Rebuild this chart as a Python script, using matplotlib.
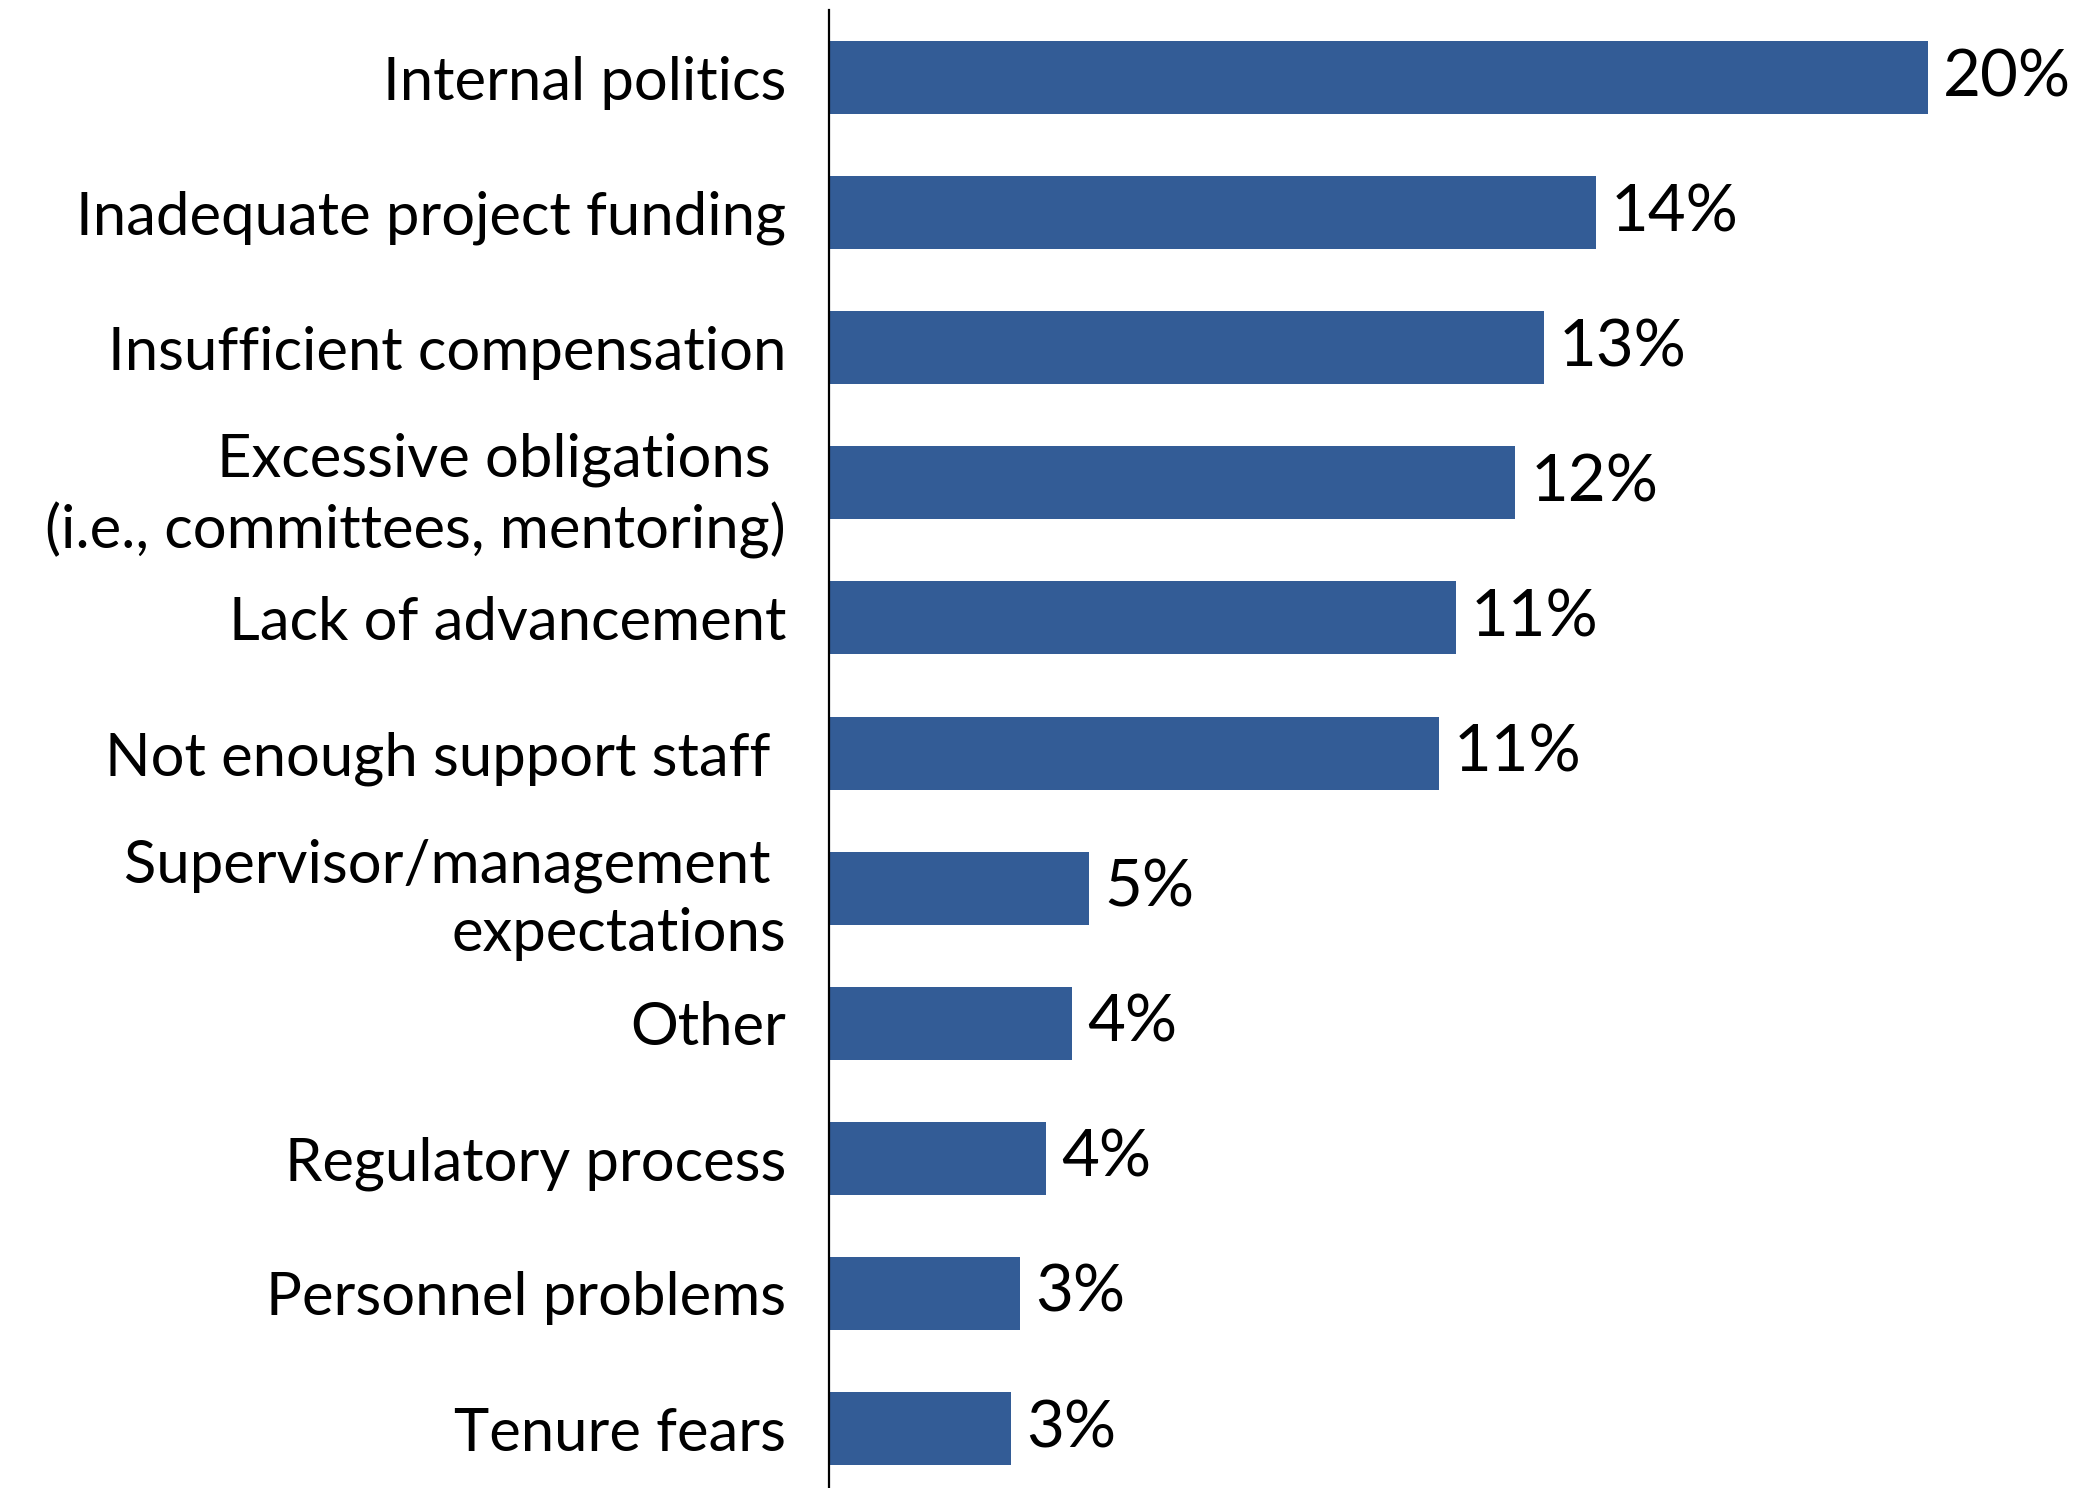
import matplotlib.pyplot as plt

# reasons, top to bottom
categories = [
    "Internal politics",
    "Inadequate project funding",
    "Insufficient compensation",
    "Excessive obligations \n(i.e., committees, mentoring)",
    "Lack of advancement",
    "Not enough support staff ",
    "Supervisor/management \nexpectations",
    "Other",
    "Regulatory process",
    "Personnel problems",
    "Tenure fears",
]
# share of respondents, percent
values = [20.0, 13.96, 13.01, 12.49, 11.41, 11.10, 4.73, 4.42, 3.95, 3.48, 3.31]

BAR_COLOR = "#335C96"
LABEL_SIZE = 43
VALUE_SIZE = 47

plt.rcParams["font.family"] = ["Lato", "DejaVu Sans"]

W, H = 2085, 1488
fig = plt.figure(figsize=(W / 100, H / 100), dpi=100)
left = 829 / W
top_gap = 10 / H
ax = fig.add_axes([left, 0, 1 - left, 1 - top_gap])

pos = list(range(len(categories)))
ax.barh(pos, values, height=0.54, color=BAR_COLOR)

px_per_row = 135.1
px_per_pct = 54.95
ax.set_ylim(-0.5 + (H - 10) / px_per_row, -0.5)
ax.set_xlim(0, (W - 829) / px_per_pct)

for i, v in zip(pos, values):
    ax.text(v + 15 / px_per_pct, i, f"{v:.0f}%", va="center", ha="left",
            fontsize=VALUE_SIZE, color="black", clip_on=False)

ax.set_yticks(pos)
ax.set_yticklabels(categories, fontsize=LABEL_SIZE, linespacing=1.32)
ax.tick_params(axis="y", length=0, pad=31)
ax.set_xticks([])
for side in ("top", "right", "bottom"):
    ax.spines[side].set_visible(False)
ax.spines["left"].set_linewidth(1.6)
ax.spines["left"].set_color("black")

fig.savefig("out.png", dpi=100, facecolor="white")
